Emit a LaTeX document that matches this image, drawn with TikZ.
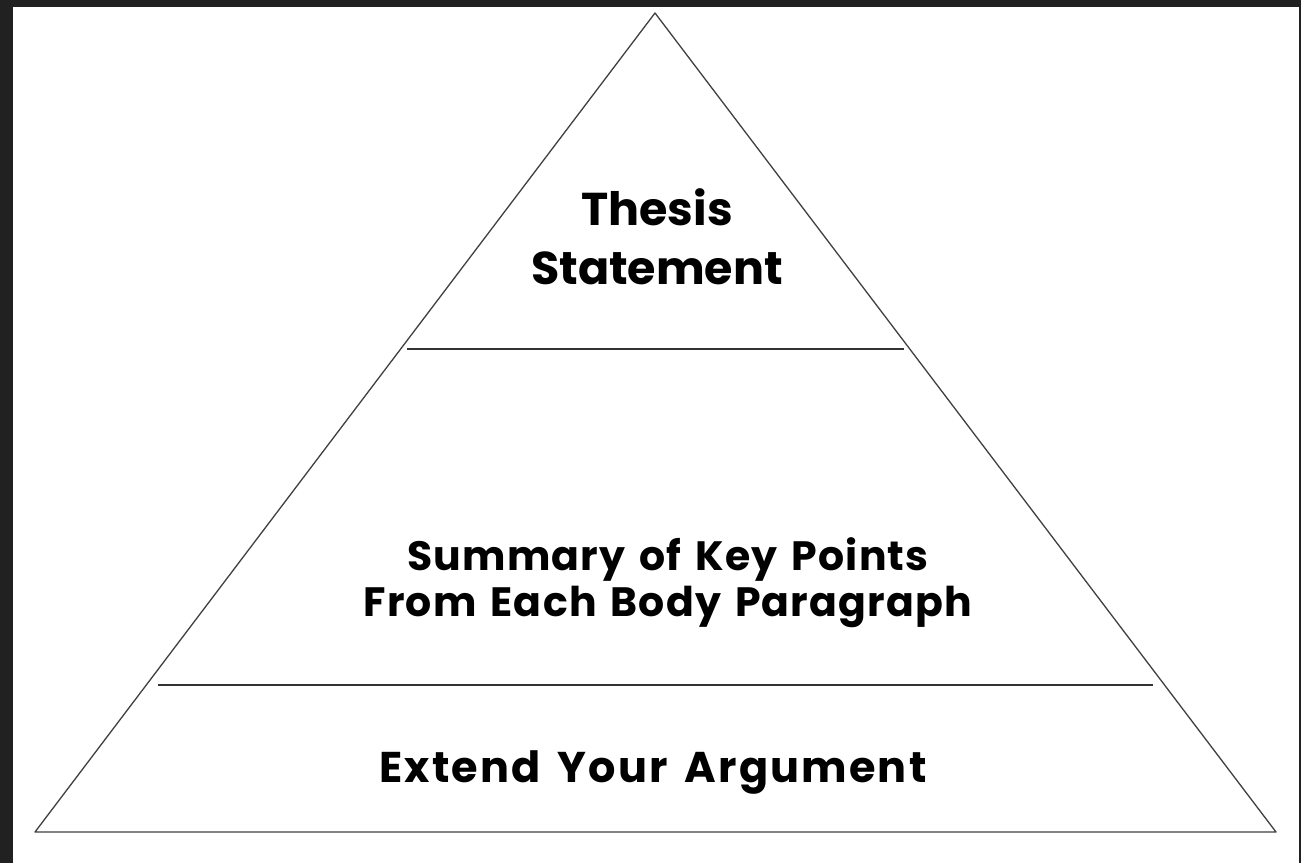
\documentclass[tikz,border=0pt]{standalone}
\usepackage{fontspec}
\setmainfont{Poppins}
\newfontfamily\midfont[WordSpace=1.4,LetterSpace=3]{Poppins}
\newfontfamily\lowfont[WordSpace=1.5,LetterSpace=5]{Poppins}
\begin{document}
\begin{tikzpicture}[x=1pt,y=-1pt,
  edge/.style={draw=black!75,line width=1.3pt},
  divider/.style={draw=black!80,line width=1.8pt},
  big/.style={font=\fontsize{46}{59}\selectfont\bfseries,align=center,text=black},
  mid/.style={font=\midfont\fontsize{41}{46}\selectfont\bfseries,align=center,text=black},
  low/.style={font=\lowfont\fontsize{43}{48}\selectfont\bfseries,align=center,text=black}]
\useasboundingbox (0,0) rectangle (1301,863);
\fill[black!87] (0,0) rectangle (1301,863);
\fill[white] (13,7) rectangle (1299,863);
\coordinate (apex) at (655,13);
\coordinate (bl) at (35,832);
\coordinate (br) at (1276,832);
\draw[edge,line join=round] (apex) -- (bl) -- (br) -- cycle;
\coordinate (d1l) at (407,349);
\coordinate (d1r) at (904,349);
\coordinate (d2l) at (158,685);
\coordinate (d2r) at (1153,685);
\draw[divider] (d1l) -- (d1r);
\draw[divider] (d2l) -- (d2r);
\node[big] (thesis) at (657,237) {Thesis\\Statement};
\node[mid] (summary) at (668,583) {Summary of Key Points\\From Each Body Paragraph};
\node[low] (extend) at (653,772) {Extend Your Argument};
\end{tikzpicture}
\end{document}
